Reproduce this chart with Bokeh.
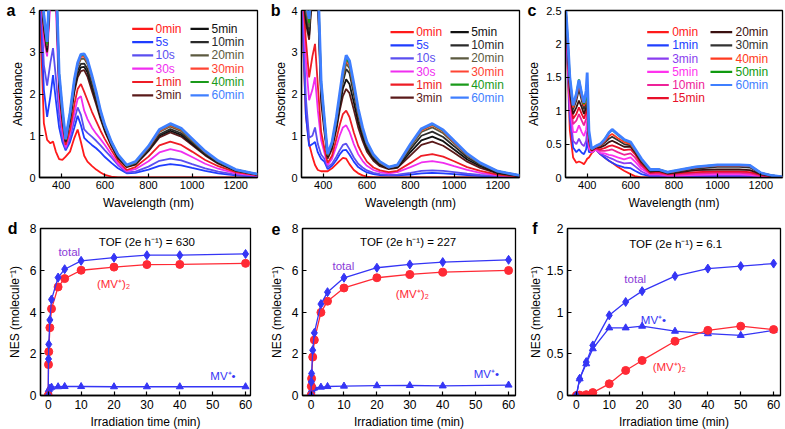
from bokeh.plotting import figure
from bokeh.layouts import row, column
from bokeh.models import Range1d, FixedTicker, CustomJSTickFormatter, Label, LinearAxis
from bokeh.core.properties import value
from bokeh.embed import file_html
from bokeh.resources import INLINE

FONT = "Liberation Sans"

# ---------------- spectra data (panels a, b) ----------------
wl_ab = [300, 320, 335, 350, 362, 375, 390, 405, 420, 440, 460, 475, 490, 505, 520, 540,
         560, 580, 600, 630, 660, 700, 740, 800, 850, 900, 950, 1000, 1060, 1120, 1200, 1300]

labels_ab = ["0min", "5s", "10s", "30s", "1min", "3min",
             "5min", "10min", "20min", "30min", "40min", "60min"]
colors_ab = ["#ff1a1a", "#1f3dff", "#5b4ff0", "#f02ef0", "#ee1c25", "#5a1a1a",
             "#111111", "#2a2a2a", "#5c5a40", "#ff4433", "#1a9a1a", "#3f7fff"]

a_0min = [4.3, 1.3, 0.9, 0.82, 0.86, 0.62, 0.44, 0.42, 0.5, 0.62, 0.95, 1.15, 0.85, 0.52, 0.38, 0.28,
          0.19, 0.12, 0.06, 0.02, 0.0, 0, 0, 0, 0, 0, 0, 0, 0, 0, 0, 0]
a_5s = [4.8, 2.1, 1.45, 1.95, 2.45, 1.85, 1.2, 0.85, 0.65, 0.85, 1.2, 1.48, 1.25, 0.95, 0.87, 0.78,
        0.7, 0.6, 0.49, 0.35, 0.22, 0.1, 0.11, 0.19, 0.28, 0.32, 0.29, 0.23, 0.16, 0.1, 0.05, 0.02]
a_10s = [5, 2.7, 2.2, 2.75, 3.1, 2.4, 1.5, 0.95, 0.68, 0.95, 1.38, 1.68, 1.5, 1.15, 1.07, 0.98,
         0.88, 0.77, 0.65, 0.48, 0.3, 0.12, 0.14, 0.26, 0.4, 0.45, 0.41, 0.32, 0.22, 0.14, 0.07, 0.03]
a_30s = [5, 3.3, 2.9, 4.2, 4.5, 4.1, 1.9, 1.1, 0.72, 1.05, 1.55, 1.88, 1.95, 1.6, 1.4, 1.2,
         1.05, 0.92, 0.78, 0.55, 0.33, 0.15, 0.2, 0.39, 0.6, 0.68, 0.62, 0.49, 0.33, 0.21, 0.1, 0.04]
a_1min = [5, 3.5, 3.0, 4.5, 5, 4.5, 2.1, 1.25, 0.78, 1.15, 1.75, 2.12, 2.24, 2.05, 1.85, 1.58,
          1.35, 1.12, 0.92, 0.65, 0.4, 0.18, 0.25, 0.5, 0.77, 0.86, 0.78, 0.62, 0.42, 0.27, 0.13, 0.05]
a_3min = [5, 3.6, 3.0, 4.6, 5, 4.7, 2.2, 1.4, 0.85, 1.35, 2.05, 2.4, 2.55, 2.57, 2.42, 2.08,
          1.75, 1.4, 1.1, 0.75, 0.46, 0.25, 0.31, 0.63, 0.96, 1.08, 0.98, 0.78, 0.53, 0.33, 0.16, 0.06]
a_5min = [5, 3.65, 3.05, 4.7, 5, 4.8, 2.3, 1.45, 0.87, 1.4, 2.12, 2.48, 2.64, 2.65, 2.52, 2.18,
          1.83, 1.45, 1.14, 0.78, 0.48, 0.26, 0.32, 0.65, 1.0, 1.12, 1.02, 0.81, 0.55, 0.35, 0.17, 0.07]
a_10min = [5, 3.7, 3.1, 4.8, 5, 4.8, 2.35, 1.5, 0.88, 1.45, 2.18, 2.56, 2.72, 2.73, 2.6, 2.25,
           1.88, 1.5, 1.18, 0.8, 0.5, 0.27, 0.34, 0.67, 1.03, 1.16, 1.06, 0.84, 0.57, 0.36, 0.17, 0.07]
a_20min = [5, 3.75, 3.15, 4.9, 5, 4.9, 2.4, 1.55, 0.9, 1.5, 2.27, 2.66, 2.84, 2.85, 2.72, 2.36,
           1.97, 1.55, 1.21, 0.83, 0.53, 0.28, 0.35, 0.71, 1.09, 1.22, 1.11, 0.88, 0.6, 0.38, 0.18, 0.07]
a_30min = [5, 3.8, 3.2, 5, 5, 5, 2.45, 1.6, 0.91, 1.52, 2.3, 2.7, 2.89, 2.9, 2.77, 2.4,
           2.01, 1.57, 1.23, 0.84, 0.54, 0.29, 0.36, 0.72, 1.11, 1.25, 1.14, 0.9, 0.61, 0.39, 0.19, 0.08]
a_40min = [5, 3.85, 3.2, 5, 5, 5, 2.5, 1.62, 0.91, 1.54, 2.33, 2.73, 2.93, 2.93, 2.8, 2.43,
           2.03, 1.59, 1.24, 0.85, 0.55, 0.29, 0.37, 0.74, 1.13, 1.27, 1.16, 0.91, 0.62, 0.39, 0.19, 0.08]
a_60min = [5, 3.9, 3.25, 5, 5, 5, 2.5, 1.65, 0.92, 1.55, 2.35, 2.75, 2.95, 2.96, 2.82, 2.45,
           2.05, 1.6, 1.25, 0.85, 0.55, 0.3, 0.38, 0.75, 1.15, 1.29, 1.18, 0.93, 0.63, 0.4, 0.19, 0.08]

b_0min = [4.2, 1.5, 0.8, 0.5, 0.3, 0.18, 0.15, 0.15, 0.15, 0.22, 0.32, 0.4, 0.47, 0.45, 0.32, 0.18,
          0.1, 0.05, 0.02, 0.0, 0.0, 0, 0, 0, 0, 0, 0, 0, 0, 0, 0, 0]
b_5s = [4.5, 1.5, 0.75, 0.8, 0.85, 0.6, 0.45, 0.38, 0.2, 0.28, 0.42, 0.55, 0.65, 0.66, 0.55, 0.38,
        0.25, 0.18, 0.12, 0.08, 0.06, 0.05, 0.05, 0.07, 0.1, 0.11, 0.1, 0.08, 0.06, 0.04, 0.02, 0.01]
b_10s = [4.8, 1.9, 0.95, 1.0, 1.2, 0.8, 0.55, 0.45, 0.25, 0.33, 0.5, 0.65, 0.78, 0.81, 0.68, 0.48,
         0.33, 0.24, 0.17, 0.11, 0.08, 0.06, 0.07, 0.11, 0.16, 0.17, 0.16, 0.13, 0.09, 0.06, 0.03, 0.01]
b_30s = [5, 2.8, 1.85, 2.1, 2.4, 1.6, 0.9, 0.6, 0.3, 0.45, 0.75, 1.0, 1.2, 1.25, 1.1, 0.8,
         0.56, 0.4, 0.28, 0.18, 0.13, 0.1, 0.13, 0.25, 0.36, 0.39, 0.35, 0.27, 0.18, 0.11, 0.05, 0.02]
b_1min = [5, 3.3, 2.4, 2.9, 3.2, 2.2, 1.1, 0.7, 0.35, 0.52, 0.92, 1.25, 1.52, 1.6, 1.45, 1.08,
          0.76, 0.55, 0.38, 0.24, 0.17, 0.13, 0.16, 0.35, 0.52, 0.56, 0.5, 0.39, 0.25, 0.16, 0.07, 0.02]
b_3min = [5, 3.7, 3.3, 4.5, 5, 4.2, 1.8, 1.1, 0.45, 0.68, 1.15, 1.6, 1.95, 2.12, 2.02, 1.62,
          1.2, 0.88, 0.62, 0.4, 0.27, 0.2, 0.23, 0.53, 0.78, 0.86, 0.76, 0.59, 0.38, 0.23, 0.1, 0.03]
b_5min = [5, 3.8, 3.4, 4.6, 5, 4.4, 2.0, 1.2, 0.5, 0.74, 1.22, 1.7, 2.13, 2.35, 2.24, 1.8,
          1.33, 0.97, 0.69, 0.45, 0.31, 0.22, 0.25, 0.61, 0.89, 0.98, 0.87, 0.67, 0.43, 0.27, 0.11, 0.04]
b_10min = [5, 3.9, 3.5, 4.7, 5, 4.5, 2.1, 1.25, 0.52, 0.78, 1.3, 1.8, 2.28, 2.6, 2.5, 2.0,
           1.47, 1.07, 0.76, 0.49, 0.34, 0.23, 0.27, 0.68, 1.0, 1.1, 0.97, 0.75, 0.48, 0.3, 0.13, 0.04]
b_20min = [5, 4.0, 3.6, 4.8, 5, 4.6, 2.2, 1.3, 0.53, 0.8, 1.36, 1.87, 2.38, 2.73, 2.62, 2.1,
           1.54, 1.12, 0.79, 0.51, 0.35, 0.24, 0.28, 0.74, 1.09, 1.2, 1.06, 0.82, 0.53, 0.33, 0.14, 0.05]
b_30min = [5, 4.1, 3.7, 4.9, 5, 4.7, 2.25, 1.35, 0.54, 0.82, 1.39, 1.92, 2.45, 2.8, 2.69, 2.16,
           1.58, 1.15, 0.82, 0.53, 0.36, 0.24, 0.29, 0.78, 1.13, 1.25, 1.1, 0.85, 0.55, 0.34, 0.15, 0.05]
b_40min = [5, 4.2, 3.7, 5, 5, 4.8, 2.3, 1.4, 0.55, 0.83, 1.41, 1.95, 2.48, 2.85, 2.73, 2.19,
           1.61, 1.17, 0.83, 0.54, 0.37, 0.25, 0.3, 0.79, 1.15, 1.27, 1.12, 0.87, 0.56, 0.34, 0.15, 0.05]
b_60min = [5, 4.2, 3.8, 5, 5, 4.8, 2.3, 1.4, 0.56, 0.85, 1.45, 2.0, 2.55, 2.93, 2.8, 2.25,
           1.65, 1.2, 0.85, 0.55, 0.38, 0.25, 0.3, 0.8, 1.17, 1.29, 1.14, 0.88, 0.57, 0.35, 0.15, 0.05]

# ---------------- spectra data (panel c) ----------------
wl_c = [300, 310, 320, 335, 350, 362, 375, 385, 395, 400, 408, 420, 440, 460, 480, 500, 515,
        540, 570, 600, 620, 650, 690, 730, 770, 800, 900, 1000, 1100, 1150, 1200, 1250, 1300]
labels_c = ["0min", "1min", "3min", "5min", "10min", "15min",
            "20min", "30min", "40min", "50min", "60min"]
colors_c = ["#ff1a1a", "#2040ff", "#8a3df0", "#ff33ee", "#ee2299", "#e8102a",
            "#3a1010", "#333333", "#ff3a20", "#109a10", "#3f7fff"]

c_0min = [2.6, 1.6, 0.7, 0.3, 0.22, 0.24, 0.22, 0.2, 0.25, 0.28, 0.3, 0.36, 0.42, 0.35, 0.3, 0.25, 0.22,
          0.16, 0.1, 0.05, 0.02, 0.0, 0, 0, 0, 0, 0, 0, 0, 0, 0, 0, 0]
c_1min = [2.6, 1.7, 0.9, 0.45, 0.38, 0.42, 0.37, 0.35, 0.42, 0.55, 0.38, 0.38, 0.42, 0.35, 0.3, 0.25, 0.22,
          0.18, 0.15, 0.14, 0.1, 0.05, 0.02, 0.02, 0.01, 0.01, 0.02, 0.02, 0.02, 0.02, 0.01, 0.0, 0.0]
c_3min = [2.6, 1.75, 1.0, 0.55, 0.5, 0.58, 0.5, 0.47, 0.55, 0.7, 0.42, 0.38, 0.42, 0.36, 0.33, 0.3, 0.28,
          0.24, 0.21, 0.22, 0.17, 0.09, 0.03, 0.03, 0.02, 0.02, 0.03, 0.03, 0.03, 0.03, 0.01, 0.0, 0.0]
c_5min = [2.6, 1.8, 1.1, 0.68, 0.68, 0.78, 0.68, 0.62, 0.72, 0.85, 0.45, 0.38, 0.42, 0.37, 0.36, 0.34, 0.33,
          0.3, 0.27, 0.3, 0.24, 0.13, 0.05, 0.05, 0.03, 0.03, 0.04, 0.05, 0.05, 0.04, 0.02, 0.01, 0.0]
c_10min = [2.6, 1.85, 1.2, 0.8, 0.85, 0.95, 0.85, 0.78, 0.88, 1.0, 0.5, 0.4, 0.43, 0.4, 0.4, 0.41, 0.42,
           0.38, 0.34, 0.36, 0.3, 0.17, 0.06, 0.06, 0.04, 0.04, 0.06, 0.07, 0.07, 0.06, 0.03, 0.01, 0.0]
c_15min = [2.6, 1.9, 1.25, 0.88, 0.95, 1.05, 0.95, 0.88, 0.98, 1.1, 0.55, 0.4, 0.44, 0.42, 0.44, 0.47, 0.48,
           0.45, 0.41, 0.42, 0.35, 0.2, 0.07, 0.08, 0.05, 0.06, 0.08, 0.09, 0.09, 0.08, 0.04, 0.02, 0.01]
c_20min = [2.6, 1.95, 1.3, 0.95, 1.05, 1.15, 1.05, 0.95, 1.05, 1.15, 0.58, 0.41, 0.45, 0.45, 0.48, 0.53, 0.55,
           0.51, 0.46, 0.46, 0.38, 0.23, 0.09, 0.1, 0.06, 0.07, 0.11, 0.12, 0.12, 0.11, 0.05, 0.02, 0.01]
c_30min = [2.6, 2.0, 1.4, 1.02, 1.15, 1.32, 1.15, 1.02, 1.12, 1.2, 0.6, 0.42, 0.46, 0.47, 0.52, 0.58, 0.61,
           0.56, 0.5, 0.48, 0.4, 0.25, 0.1, 0.11, 0.07, 0.08, 0.13, 0.16, 0.16, 0.15, 0.06, 0.03, 0.01]
c_40min = [2.6, 2.05, 1.45, 1.05, 1.2, 1.4, 1.2, 1.07, 1.15, 1.2, 0.62, 0.42, 0.46, 0.48, 0.54, 0.62, 0.65,
           0.59, 0.53, 0.5, 0.41, 0.26, 0.11, 0.12, 0.08, 0.09, 0.15, 0.18, 0.18, 0.17, 0.07, 0.03, 0.01]
c_50min = [2.6, 2.1, 1.5, 1.08, 1.25, 1.47, 1.25, 1.1, 1.18, 1.22, 0.63, 0.43, 0.47, 0.5, 0.57, 0.67, 0.71,
           0.64, 0.56, 0.52, 0.42, 0.27, 0.11, 0.12, 0.08, 0.1, 0.16, 0.19, 0.19, 0.18, 0.07, 0.03, 0.01]
c_60min = [2.6, 2.1, 1.5, 1.08, 1.25, 1.46, 1.25, 1.12, 1.3, 1.57, 0.7, 0.43, 0.47, 0.5, 0.57, 0.67, 0.72,
           0.65, 0.57, 0.53, 0.43, 0.28, 0.12, 0.12, 0.08, 0.1, 0.16, 0.19, 0.19, 0.18, 0.07, 0.03, 0.01]

# ---------------- kinetics data (panels d, e, f) ----------------
t_de = [0, 0.083, 0.167, 0.5, 1, 3, 5, 10, 20, 30, 40, 60]
d_total = [0, 1.75, 2.45, 3.62, 4.6, 5.65, 6.05, 6.45, 6.6, 6.72, 6.72, 6.78]
d_dimer = [0, 1.48, 2.1, 3.25, 4.15, 5.2, 5.6, 6.0, 6.15, 6.27, 6.28, 6.33]
d_radical = [0, 0.2, 0.28, 0.35, 0.4, 0.42, 0.43, 0.43, 0.42, 0.42, 0.42, 0.42]

e_total = [0, 0.65, 1.05, 2.17, 3.0, 4.38, 4.95, 5.64, 6.12, 6.28, 6.39, 6.5]
e_dimer = [0, 0.44, 0.81, 1.84, 2.66, 3.98, 4.52, 5.15, 5.64, 5.8, 5.91, 5.99]
e_radical = [0, 0.2, 0.25, 0.33, 0.36, 0.4, 0.43, 0.45, 0.47, 0.48, 0.46, 0.5]

t_f = [0, 1, 3, 5, 10, 15, 20, 30, 40, 50, 60]
f_total = [0, 0.2, 0.4, 0.6, 0.96, 1.12, 1.25, 1.43, 1.52, 1.55, 1.58]
f_dimer = [0, 0.005, 0.01, 0.035, 0.14, 0.3, 0.42, 0.65, 0.78, 0.83, 0.79]
f_radical = [0, 0.2, 0.38, 0.56, 0.81, 0.81, 0.83, 0.77, 0.74, 0.72, 0.78]

BLUE = "#3535f5"
RED = "#ff2a35"
VIOLET = "#8a3ad8"


def make_fig(xr, yr, fw, fh, bl, br, bt, bb, xticks, yticks, xlabel, ylabel,
             tick_fs, lab_std_y, axlab_std_y, lab_std_x, axlab_std_x, fmt_y=False):
    p = figure(x_range=Range1d(*xr), y_range=Range1d(*yr), frame_width=fw, frame_height=fh,
               min_border_left=bl, min_border_right=br, min_border_top=bt, min_border_bottom=bb,
               output_backend="svg", toolbar_location=None, title=None,
               background_fill_color="white", border_fill_color="white")
    p.outline_line_color = "black"
    p.outline_line_width = 1.3
    p.outline_line_alpha = 1.0
    p.grid.visible = False
    p.xaxis.ticker = FixedTicker(ticks=xticks)
    p.yaxis.ticker = FixedTicker(ticks=yticks)
    if fmt_y:
        p.yaxis.formatter = CustomJSTickFormatter(code="return String(tick);")
    p.xaxis.axis_label = xlabel
    p.yaxis.axis_label = ylabel
    for ax in (p.xaxis[0], p.yaxis[0]):
        ax.major_tick_in = 4
        ax.major_tick_out = 0
        ax.minor_tick_line_color = None
        ax.axis_line_color = "black"
        ax.axis_line_width = 1.3
        ax.major_tick_line_color = "black"
        ax.major_tick_line_width = 1.2
        ax.major_label_text_font = FONT
        ax.major_label_text_font_size = tick_fs
        ax.major_label_text_color = "black"
        ax.axis_label_text_font = FONT
        ax.axis_label_text_font_size = "12px"
        ax.axis_label_text_font_style = "normal"
        ax.axis_label_text_color = "black"
    p.xaxis.major_label_standoff = lab_std_x
    p.xaxis.axis_label_standoff = axlab_std_x
    p.yaxis.major_label_standoff = lab_std_y
    p.yaxis.axis_label_standoff = axlab_std_y
    return p


def px2data(p_geom, dx, dy):
    xr, yr, fw, fh = p_geom
    return (xr[0] + dx * (xr[1] - xr[0]) / fw, yr[1] - dy * (yr[1] - yr[0]) / fh)


def draw_legend(p, geom, labels, colors, cols, row0, step):
    x0s, x1s, ys, txs, tys, tl, tc = [], [], [], [], [], [], []
    for (lx0, lx1, tx, start, cnt) in cols:
        for i in range(cnt):
            dy = row0 + step * i
            a0, yy = px2data(geom, lx0, dy)
            a1, _ = px2data(geom, lx1, dy)
            t0, _ = px2data(geom, tx, dy)
            x0s.append(a0); x1s.append(a1); ys.append(yy)
            txs.append(t0); tys.append(yy)
            tl.append(labels[start + i]); tc.append(colors[start + i])
    p.segment(x0=x0s, y0=ys, x1=x1s, y1=ys, line_color=tc, line_width=2.2)
    p.text(x=txs, y=tys, text=tl, text_color=tc, text_font=value(FONT),
           text_font_size="12px", text_baseline="middle", text_align="left")


def letter_axis(p, ytop, t, standoff):
    # panel letter drawn as the single tick label of an extra (outer) left axis
    ax = LinearAxis(ticker=FixedTicker(ticks=[ytop]),
                    formatter=CustomJSTickFormatter(code="return '%s';" % t))
    ax.axis_line_color = None
    ax.major_tick_line_color = None
    ax.minor_tick_line_color = None
    ax.major_tick_out = 0
    ax.major_tick_in = 0
    ax.major_label_standoff = standoff
    ax.major_label_text_font = FONT
    ax.major_label_text_font_size = "16px"
    ax.major_label_text_font_style = "bold"
    ax.major_label_text_color = "black"
    p.add_layout(ax, "left")


def note(p, x, y, t, color, align="left", size="11.5px"):
    p.add_layout(Label(x=x, y=y, text=t, text_font=FONT, text_font_size=size,
                       text_baseline="middle", text_align=align, text_color=color))


# ---------------- top row ----------------
spec_x = [400, 600, 800, 1000, 1200]
wl_label = "Wavelength (nm)"

ga = ((300, 1300), (0, 4), 218, 167)
pa = make_fig(ga[0], ga[1], 218, 167, 39, 5, 10, 33, spec_x, [0, 1, 2, 3, 4],
              wl_label, "Absorbance", "11px", 4, 1, 3, 4)
curves_a = [a_0min, a_5s, a_10s, a_30s, a_1min, a_3min, a_5min, a_10min, a_20min, a_30min, a_40min, a_60min]
for ys, c, lab in zip(curves_a, colors_ab, labels_ab):
    pa.line(wl_ab, ys, line_color=c, line_width=(2.8 if lab == "60min" else 1.8))
draw_legend(pa, ga, labels_ab, colors_ab,
            [(92.7, 113.7, 116, 0, 6), (151, 169.3, 172, 6, 6)], 18.3, 13.3)
letter_axis(pa, 4, "a", -7)

gb = ((300, 1300), (0, 4), 218, 167)
pb = make_fig(gb[0], gb[1], 218, 167, 39, 3, 10, 33, spec_x, [0, 1, 2, 3, 4],
              wl_label, "Absorbance", "11px", 4, 0, 3, 4)
curves_b = [b_0min, b_5s, b_10s, b_30s, b_1min, b_3min, b_5min, b_10min, b_20min, b_30min, b_40min, b_60min]
for ys, c, lab in zip(curves_b, colors_ab, labels_ab):
    pb.line(wl_ab, ys, line_color=c, line_width=(2.8 if lab == "60min" else 1.8))
draw_legend(pb, gb, labels_ab, colors_ab,
            [(89, 112.3, 114.7, 0, 6), (149, 167.3, 169.7, 6, 6)], 21.7, 13.1)
letter_axis(pb, 4, "b", -9)

gc = ((300, 1300), (0, 2.5), 217, 167)
pc = make_fig(gc[0], gc[1], 217, 167, 43, 3, 10, 33, spec_x, [0, 0.5, 1, 1.5, 2, 2.5],
              wl_label, "Absorbance", "11px", 4, 2, 3, 4, fmt_y=True)
curves_c = [c_0min, c_1min, c_3min, c_5min, c_10min, c_15min, c_20min, c_30min, c_40min, c_50min, c_60min]
for ys, c, lab in zip(curves_c, colors_c, labels_c):
    pc.line(wl_c, ys, line_color=c, line_width=(2.8 if lab == "60min" else 1.8))
draw_legend(pc, gc, labels_c, colors_c,
            [(81.7, 103.3, 106.7, 0, 6), (145, 166.7, 170, 6, 5)], 21.7, 13.2)
letter_axis(pc, 2.5, "c", -12)

# ---------------- bottom row ----------------
t_label = "Irradiation time (min)"
nes_label = "NES (molecule\u207b\u00b9)"
t_ticks = [0, 10, 20, 30, 40, 50, 60]


def kinetics(p, t, total, dimer, radical):
    p.line(t, radical, line_color=BLUE, line_width=1.3)
    p.scatter(t, radical, marker="triangle", size=7, fill_color=BLUE, line_color=BLUE)
    p.line(t, dimer, line_color=RED, line_width=1.3)
    p.scatter(t, dimer, marker="circle", size=8, fill_color=RED, line_color=RED)
    p.line(t, total, line_color=BLUE, line_width=1.3)
    p.scatter(t, total, marker="diamond", size=9, fill_color=BLUE, line_color=BLUE)


pd = make_fig((-2.35, 61.5), (0, 8), 210, 167, 40, 12, 16, 36, t_ticks, [0, 2, 4, 6, 8],
              t_label, nes_label, "12px", 4, 5, 4, 3)
kinetics(pd, t_de, d_total, d_dimer, d_radical)
note(pd, 30, 7.36, "TOF (2e h\u207b\u00b9) = 630", "black", align="center")
note(pd, 3.1, 6.88, "total", VIOLET)
note(pd, 14.8, 5.33, "(MV\u207a)\u2082", RED)
note(pd, 49.3, 0.95, "MV\u207a\u2022", BLUE)
letter_axis(pd, 8, "d", -13)

pe = make_fig((-2.6, 62.1), (0, 8), 213, 167, 40, 7, 16, 36, t_ticks, [0, 2, 4, 6, 8],
              t_label, nes_label, "12px", 4, 5, 4, 3)
kinetics(pe, t_de, e_total, e_dimer, e_radical)
note(pe, 29.5, 7.33, "TOF (2e h\u207b\u00b9) = 227", "black", align="center")
note(pe, 6.5, 6.21, "total", VIOLET)
note(pe, 25.7, 4.86, "(MV\u207a)\u2082", RED)
note(pe, 49.4, 1.03, "MV\u207a\u2022", BLUE)
letter_axis(pe, 8, "e", -14)

pf = make_fig((-2.7, 62.1), (0, 2), 213, 167, 45, 5, 16, 36, t_ticks, [0, 0.5, 1, 1.5, 2],
              t_label, nes_label, "12px", 4, 1, 4, 3, fmt_y=True)
kinetics(pf, t_f, f_total, f_dimer, f_radical)
note(pf, 30.2, 1.81, "TOF (2e h\u207b\u00b9) = 6.1", "black", align="center")
note(pf, 14.6, 1.39, "total", VIOLET)
note(pf, 19.6, 0.91, "MV\u207a\u2022", BLUE)
note(pf, 23.2, 0.34, "(MV\u207a)\u2082", RED)
letter_axis(pf, 2, "f", -12)

layout = column(row(pa, pb, pc), row(pd, pe, pf))
open("out.html", "w").write(file_html(layout, INLINE))
